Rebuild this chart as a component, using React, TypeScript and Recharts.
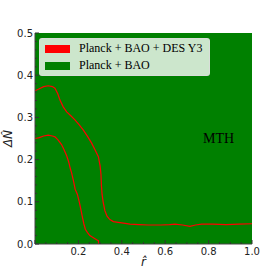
import React from 'react';
import { ComposedChart, Area, Line, XAxis, YAxis, Legend } from 'recharts';

const legendLabels = ['Planck + BAO + DES Y3', 'Planck + BAO'];
const legendColors = ['#ff0000', '#008000'];

const xTicks = [0, 0.05, 0.1, 0.15, 0.2, 0.25, 0.3, 0.35, 0.4, 0.45, 0.5, 0.55, 0.6, 0.65, 0.7, 0.75, 0.8, 0.85, 0.9, 0.95, 1.0];
const yTicks = [0, 0.02, 0.04, 0.06, 0.08, 0.1, 0.12, 0.14, 0.16, 0.18, 0.2, 0.22, 0.24, 0.26, 0.28, 0.3, 0.32, 0.34, 0.36, 0.38, 0.4, 0.42, 0.44, 0.46, 0.48, 0.5];
const xLabelTicks = [0.2, 0.4, 0.6, 0.8, 1.0];
const yLabelTicks = [0, 0.1, 0.2, 0.3, 0.4, 0.5];

// Planck + BAO allowed region (covers the whole plane)
const greenRegion = [
  { r: 0, dn: 0.5 },
  { r: 1, dn: 0.5 },
];

// Planck + BAO + DES Y3 contours
const outerContour = [
  { r: 0, dn: 0.363 }, { r: 0.02, dn: 0.368 }, { r: 0.04, dn: 0.373 }, { r: 0.061, dn: 0.375 },
  { r: 0.08, dn: 0.373 }, { r: 0.092, dn: 0.369 }, { r: 0.105, dn: 0.356 }, { r: 0.115, dn: 0.341 },
  { r: 0.13, dn: 0.325 }, { r: 0.146, dn: 0.313 }, { r: 0.165, dn: 0.304 }, { r: 0.184, dn: 0.294 },
  { r: 0.203, dn: 0.283 }, { r: 0.223, dn: 0.27 }, { r: 0.242, dn: 0.255 }, { r: 0.261, dn: 0.239 },
  { r: 0.277, dn: 0.223 }, { r: 0.292, dn: 0.207 }, { r: 0.3, dn: 0.185 }, { r: 0.304, dn: 0.165 },
  { r: 0.306, dn: 0.14 }, { r: 0.309, dn: 0.118 }, { r: 0.314, dn: 0.1 }, { r: 0.322, dn: 0.079 },
  { r: 0.332, dn: 0.066 }, { r: 0.345, dn: 0.058 }, { r: 0.361, dn: 0.053 }, { r: 0.4, dn: 0.05 },
  { r: 0.438, dn: 0.047 }, { r: 0.48, dn: 0.046 }, { r: 0.522, dn: 0.045 }, { r: 0.58, dn: 0.045 },
  { r: 0.62, dn: 0.046 }, { r: 0.645, dn: 0.047 }, { r: 0.68, dn: 0.045 }, { r: 0.714, dn: 0.042 },
  { r: 0.74, dn: 0.045 }, { r: 0.768, dn: 0.047 }, { r: 0.82, dn: 0.047 }, { r: 0.88, dn: 0.046 },
  { r: 0.94, dn: 0.047 }, { r: 1.0, dn: 0.048 },
];

const innerContour = [
  { r: 0, dn: 0.25 }, { r: 0.02, dn: 0.252 }, { r: 0.04, dn: 0.256 }, { r: 0.061, dn: 0.258 },
  { r: 0.08, dn: 0.256 }, { r: 0.092, dn: 0.254 }, { r: 0.107, dn: 0.246 }, { r: 0.123, dn: 0.235 },
  { r: 0.135, dn: 0.222 }, { r: 0.146, dn: 0.209 }, { r: 0.155, dn: 0.195 }, { r: 0.162, dn: 0.18 },
  { r: 0.169, dn: 0.168 }, { r: 0.177, dn: 0.15 }, { r: 0.185, dn: 0.13 }, { r: 0.195, dn: 0.118 },
  { r: 0.204, dn: 0.1 }, { r: 0.212, dn: 0.08 }, { r: 0.218, dn: 0.065 }, { r: 0.225, dn: 0.048 },
  { r: 0.232, dn: 0.035 }, { r: 0.242, dn: 0.027 }, { r: 0.253, dn: 0.02 }, { r: 0.269, dn: 0.015 },
  { r: 0.284, dn: 0.01 }, { r: 0.292, dn: 0.008 }, { r: 0.293, dn: 0 },
];

const annotation = 'MTH';
const xTitle = 'r\u0302';
const yTitle = '\u0394N\u0302';

const SERIF = "'Liberation Serif', 'Times New Roman', 'DejaVu Serif', serif";
const TICK_COLOR = '#333';
const isMajor = (v: number, list: number[]) => list.some((t) => Math.abs(t - v) < 1e-6);

const BottomTick = (props: any) => {
  const { x, y, payload } = props;
  const v = payload.value;
  const major = isMajor(v, xLabelTicks) || isMajor(v, [0]);
  const len = major ? 4 : 2;
  const showLabel = isMajor(v, xLabelTicks);
  return (
    <g>
      <line x1={x} x2={x} y1={y} y2={y - len} stroke={TICK_COLOR} strokeWidth={1} />
      {showLabel && (
        <text x={x} y={y + 10.5} textAnchor="middle" fontSize={10} fontFamily="DejaVu Sans" fill="#222">
          {v.toFixed(1)}
        </text>
      )}
    </g>
  );
};

const TopTick = (props: any) => {
  const { x, y, payload } = props;
  const v = payload.value;
  const major = isMajor(v, xLabelTicks) || isMajor(v, [0]);
  const len = major ? 4 : 2;
  return <line x1={x} x2={x} y1={y} y2={y + len} stroke={TICK_COLOR} strokeWidth={1} />;
};

const LeftTick = (props: any) => {
  const { x, y, payload } = props;
  const v = payload.value;
  const major = isMajor(v, yLabelTicks);
  const len = major ? 4 : 2;
  return (
    <g>
      <line x1={x} x2={x + len} y1={y} y2={y} stroke={TICK_COLOR} strokeWidth={1} />
      {major && (
        <text x={x - 2} y={y + 3.6} textAnchor="end" fontSize={10} fontFamily="DejaVu Sans" fill="#222">
          {v.toFixed(1)}
        </text>
      )}
    </g>
  );
};

const RightTick = (props: any) => {
  const { x, y, payload } = props;
  const v = payload.value;
  const major = isMajor(v, yLabelTicks);
  const len = major ? 4 : 2;
  return <line x1={x} x2={x - len} y1={y} y2={y} stroke={TICK_COLOR} strokeWidth={1} />;
};

const LegendBox = () => (
  <div
    style={{
      width: 169,
      height: 35,
      background: 'rgba(255,255,255,0.8)',
      border: '1px solid rgba(220,220,220,0.8)',
      borderRadius: 3,
      boxSizing: 'content-box',
      paddingTop: 1,
    }}
  >
    {legendLabels.map((label, i) => (
      <div key={label} style={{ display: 'flex', alignItems: 'center', height: 17 }}>
        <div style={{ width: 25, height: 8, background: legendColors[i], marginLeft: 5, marginRight: 9 }} />
        <span style={{ fontFamily: SERIF, fontSize: 12, color: '#000', whiteSpace: 'nowrap' }}>{label}</span>
      </div>
    ))}
  </div>
);

export default function App() {
  return (
    <div style={{ position: 'absolute', left: 0, top: 0, width: 280, height: 280, background: '#fff' }}>
      <ComposedChart width={280} height={280} margin={{ top: 33, right: 28, left: 0, bottom: 0 }}>
        <XAxis
          xAxisId="bottom"
          dataKey="r"
          type="number"
          domain={[0, 1]}
          ticks={xTicks}
          interval={0}
          allowDataOverflow
          height={36}
          tickSize={0}
          tickMargin={0}
          tick={<BottomTick />}
          axisLine={{ stroke: '#444', strokeWidth: 1 }}
          label={{ value: xTitle, position: 'insideBottom', offset: 14, style: { fontStyle: 'italic', fontSize: 12, fill: '#222', fontFamily: 'DejaVu Sans' } }}
        />
        <XAxis
          xAxisId="top"
          orientation="top"
          dataKey="r"
          type="number"
          domain={[0, 1]}
          ticks={xTicks}
          interval={0}
          allowDataOverflow
          height={0}
          tickSize={0}
          tickMargin={0}
          tick={<TopTick />}
          axisLine={{ stroke: '#444', strokeWidth: 1 }}
        />
        <YAxis
          yAxisId="left"
          type="number"
          domain={[0, 0.5]}
          ticks={yTicks}
          interval={0}
          allowDataOverflow
          width={35}
          tickSize={0}
          tickMargin={0}
          tick={<LeftTick />}
          axisLine={{ stroke: '#444', strokeWidth: 1 }}
          label={{ value: yTitle, angle: -90, position: 'insideLeft', offset: 8, style: { fontStyle: 'italic', fontSize: 12, fill: '#222', fontFamily: 'DejaVu Sans', textAnchor: 'middle' } }}
        />
        <YAxis
          yAxisId="right"
          orientation="right"
          type="number"
          domain={[0, 0.5]}
          ticks={yTicks}
          interval={0}
          allowDataOverflow
          width={0}
          tickSize={0}
          tickMargin={0}
          tick={<RightTick />}
          axisLine={{ stroke: '#999', strokeWidth: 1 }}
        />
        <Area
          xAxisId="bottom"
          yAxisId="left"
          data={greenRegion}
          dataKey="dn"
          type="linear"
          fill="#008000"
          fillOpacity={1}
          stroke="none"
          baseValue={0}
          isAnimationActive={false}
          legendType="none"
        />
        <Line
          xAxisId="bottom"
          yAxisId="left"
          data={outerContour}
          dataKey="dn"
          type="linear"
          stroke="#ff0000"
          strokeWidth={1.2}
          dot={false}
          isAnimationActive={false}
          legendType="none"
        />
        <Line
          xAxisId="bottom"
          yAxisId="left"
          data={innerContour}
          dataKey="dn"
          type="linear"
          stroke="#ff0000"
          strokeWidth={1.2}
          dot={false}
          isAnimationActive={false}
          legendType="none"
        />
        <Legend
          layout="vertical"
          align="center"
          verticalAlign="middle"
          content={<LegendBox />}
          wrapperStyle={{ left: 39, top: 38, width: 172, height: 38, bottom: 'auto', right: 'auto' }}
        />
      </ComposedChart>
      <div
        style={{
          position: 'absolute',
          left: 203,
          top: 130,
          fontFamily: SERIF,
          fontSize: 14,
          color: '#000',
          lineHeight: '18px',
          pointerEvents: 'none',
        }}
      >
        {annotation}
      </div>
    </div>
  );
}
